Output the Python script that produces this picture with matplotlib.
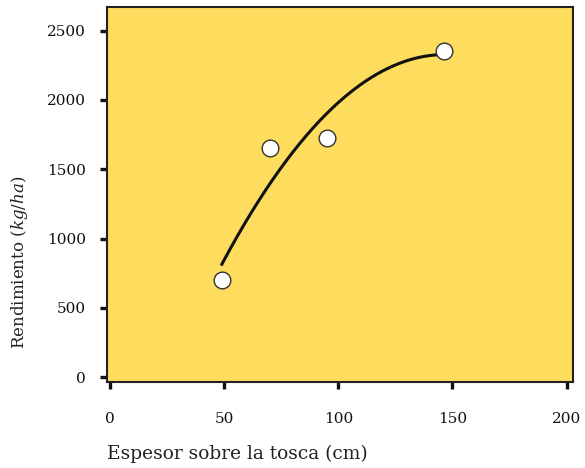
import numpy as np
import matplotlib
matplotlib.use("Agg")
import matplotlib.pyplot as plt

# data
espesor = [49, 70, 95, 146.5]          # cm
rendimiento = [705, 1654, 1727, 2354]  # kg/ha
xticks = [0, 50, 100, 150, 200]
yticks = [0, 500, 1000, 1500, 2000, 2500]

plt.rcParams['font.family'] = 'DejaVu Serif'
plt.rcParams['mathtext.fontset'] = 'dejavuserif'

fig = plt.figure(figsize=(5.85, 4.68), dpi=100)
ax = fig.add_axes([0.183, 0.183, 0.796, 0.801])
ax.set_facecolor('#FEDC5E')

# quadratic trend through the points
coef = np.polyfit(espesor, rendimiento, 2)
xs = np.linspace(min(espesor), max(espesor) - 1, 200)
ax.plot(xs, np.polyval(coef, xs), color='#111111', lw=2.2, zorder=2)

ax.plot(espesor, rendimiento, 'o', ms=12, mfc='white', mec='#333333', mew=1.0, zorder=3)

ax.set_xlim(-1.3, 202.7)
ax.set_ylim(-36, 2666)
ax.set_xticks(xticks)
ax.set_yticks(yticks)
for s in ax.spines.values():
    s.set_linewidth(1.5)
    s.set_color('#222222')
ax.tick_params(axis='both', length=5, width=2.4, color='#111111', labelsize=11, labelcolor='#111111')
ax.tick_params(axis='x', pad=16)
ax.tick_params(axis='y', pad=10)
for t in ax.get_xticklines() + ax.get_yticklines():
    t.set_solid_capstyle('round')

fig.text(0.183, 0.01, 'Espesor sobre la tosca (cm)', fontsize=13.4, ha='left', va='bottom', color='#222222')
fig.text(0.033, 0.44, r'Rendimiento $\mathit{(kg/ha)}$', fontsize=12, rotation=90,
         ha='center', va='center', color='#222222')

fig.savefig('out.png', dpi=100)
